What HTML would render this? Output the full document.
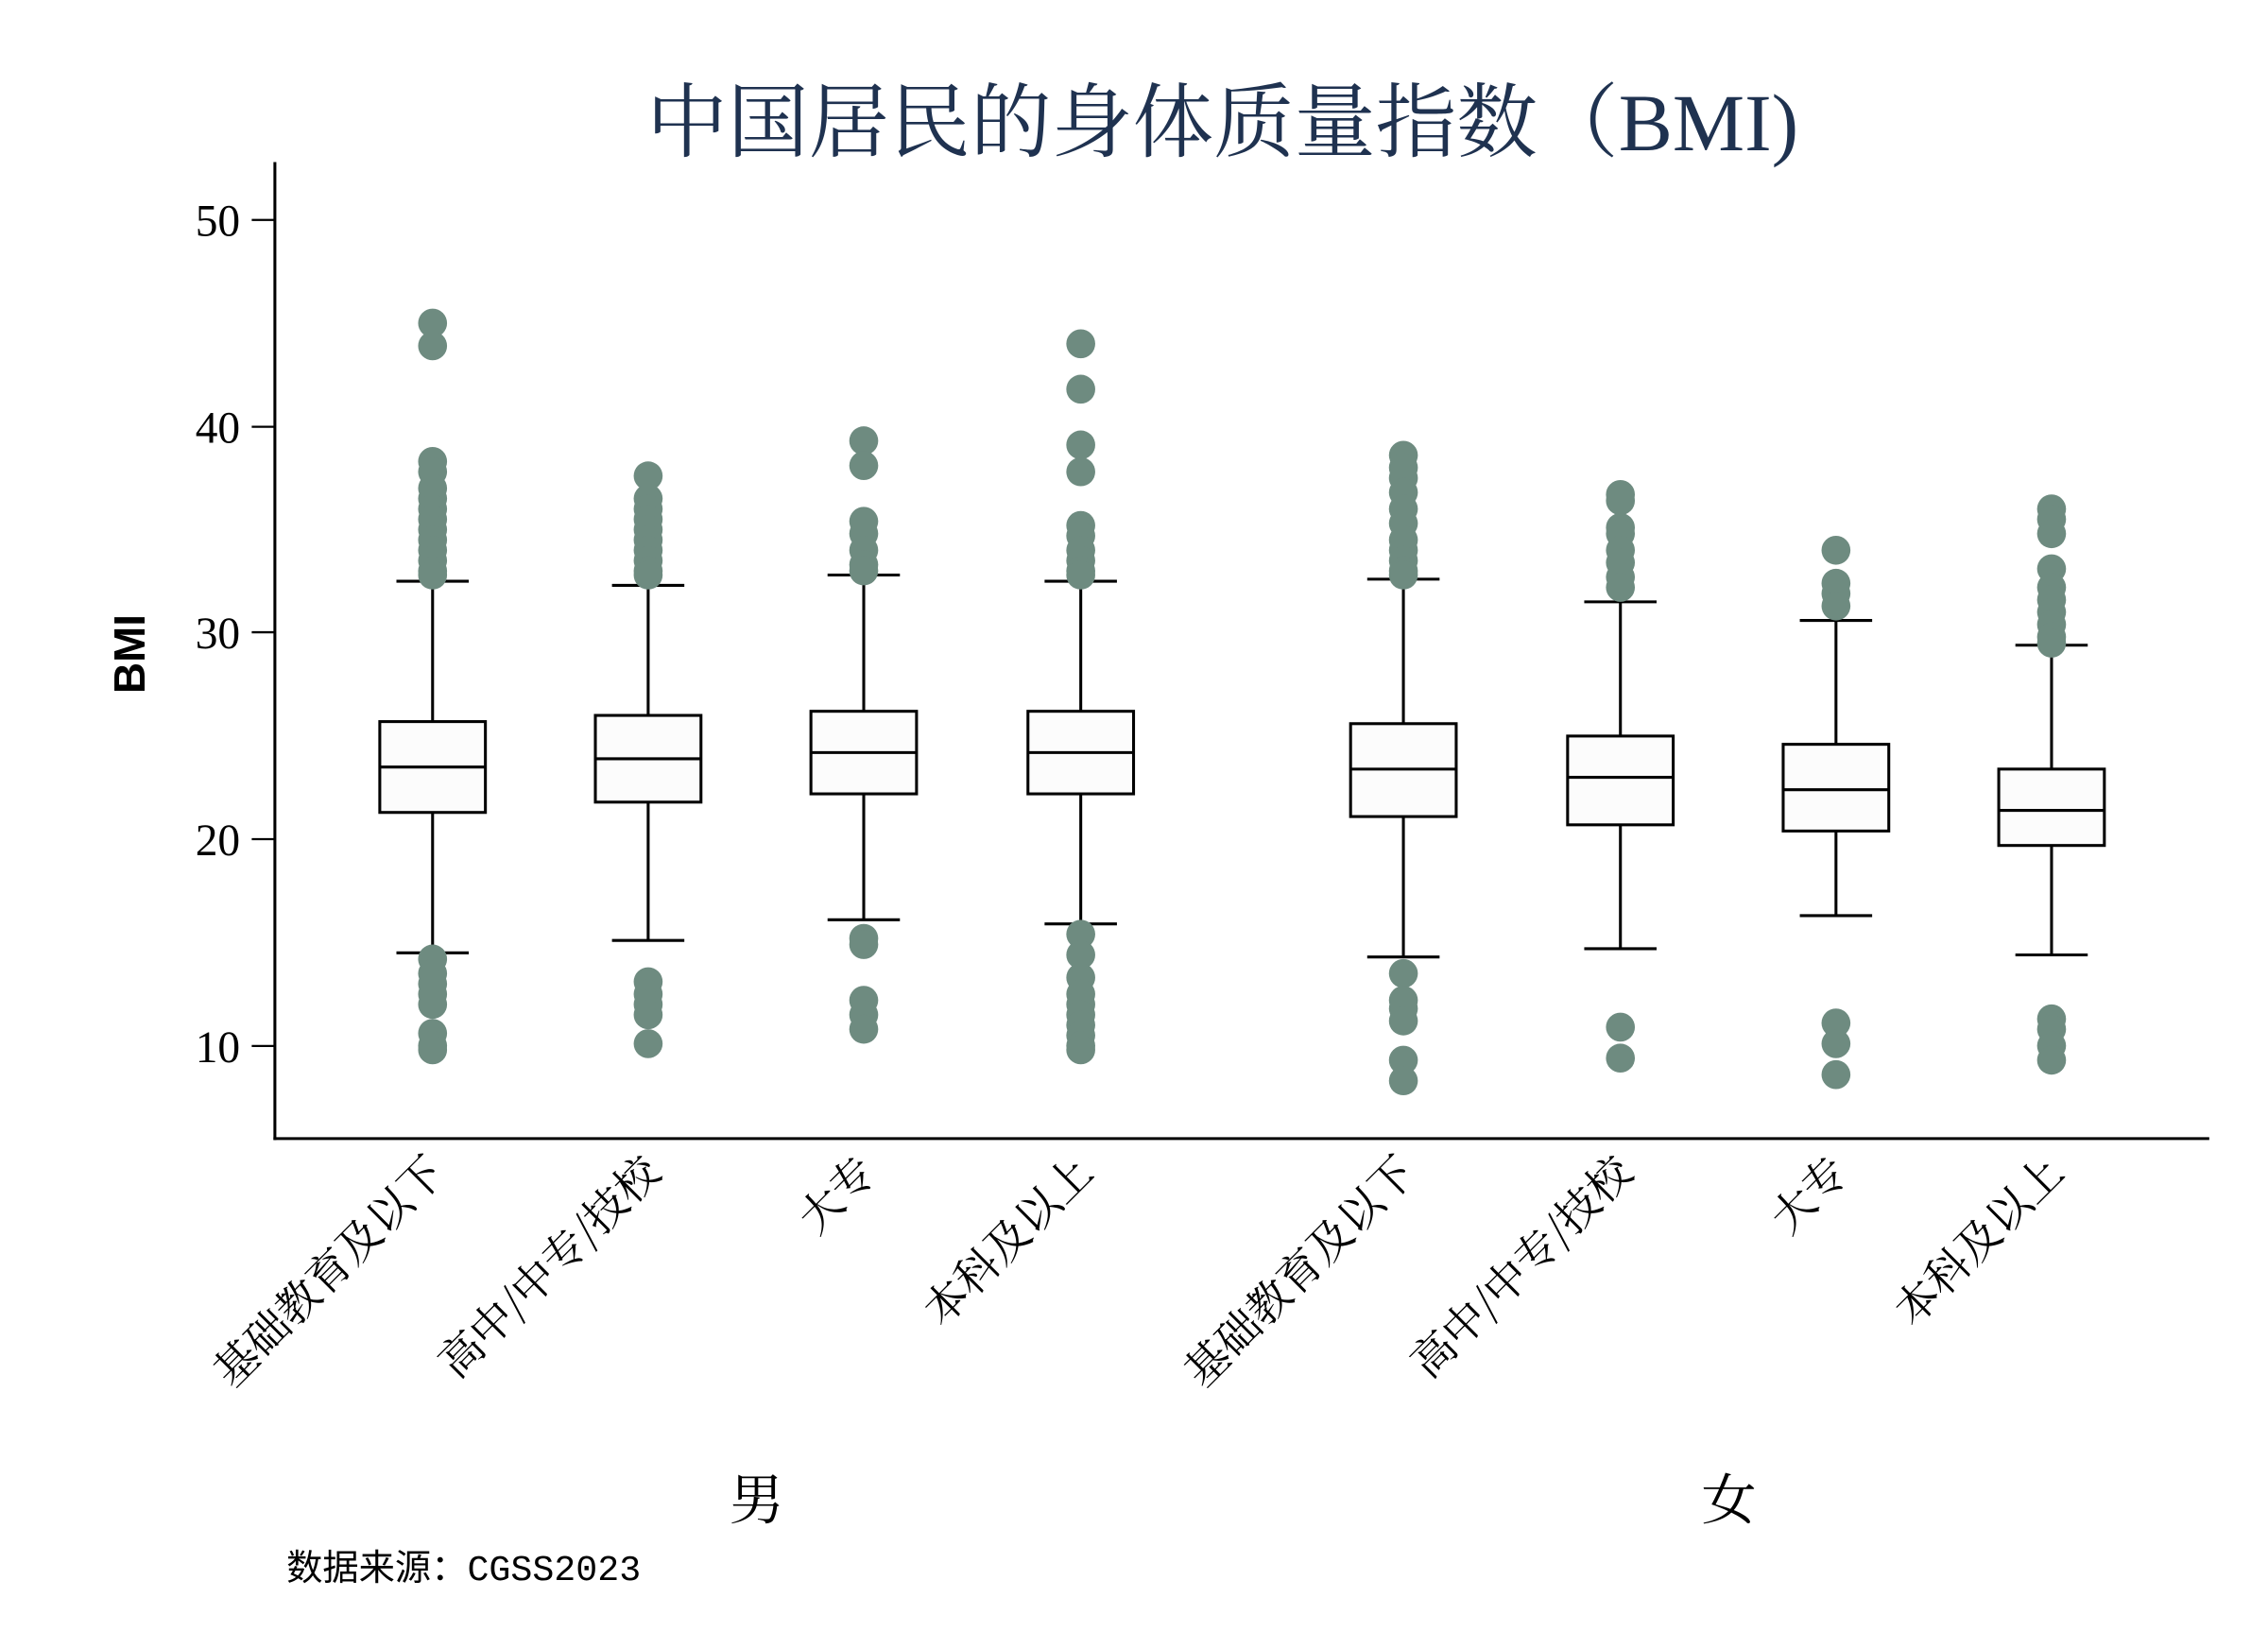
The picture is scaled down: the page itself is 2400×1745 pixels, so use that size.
<!DOCTYPE html>
<html><head><meta charset="utf-8"><style>html,body{margin:0;padding:0;background:#fff}svg{display:block}</style></head>
<body>
<svg id="s" width="2400" height="1745" viewBox="0 0 2400 1745" xmlns="http://www.w3.org/2000/svg">
<rect width="2400" height="1745" fill="#fff"/>
<g transform="scale(1.531)">
<text x="845" y="104" text-anchor="middle" font-family="'Liberation Serif','Noto Serif CJK SC',serif" font-size="56" fill="#1f3250">中国居民的身体质量指数（BMI)</text>
<g id="plot" stroke="#000" fill="none">
<line x1="190" y1="112" x2="190" y2="788" stroke-width="2"/>
<line x1="189" y1="787" x2="1527" y2="787" stroke-width="2"/>
<line x1="174" y1="152" x2="190" y2="152" stroke-width="1.5"/>
<line x1="174" y1="295" x2="190" y2="295" stroke-width="1.5"/>
<line x1="174" y1="437" x2="190" y2="437" stroke-width="1.5"/>
<line x1="174" y1="580" x2="190" y2="580" stroke-width="1.5"/>
<line x1="174" y1="723" x2="190" y2="723" stroke-width="1.5"/>
</g>
<g font-family="'Liberation Serif',serif" font-size="31" text-anchor="end" fill="#000">
<text x="166" y="163">50</text><text x="166" y="306">40</text><text x="166" y="448">30</text><text x="166" y="591">20</text><text x="166" y="734">10</text>
</g>
<text transform="translate(100,452) rotate(-90)" text-anchor="middle" font-family="'Liberation Sans',sans-serif" font-weight="bold" font-size="30">BMI</text>
<g id="data"></g>
<g font-family="'Noto Serif CJK SC',serif" font-size="30" text-anchor="end" fill="#000">
<text transform="translate(309,812) rotate(-45)">基础教育及以下</text>
<text transform="translate(458,812) rotate(-45)">高中/中专/技校</text>
<text transform="translate(607,812) rotate(-45)">大专</text>
<text transform="translate(757,812) rotate(-45)">本科及以上</text>
<text transform="translate(980,812) rotate(-45)">基础教育及以下</text>
<text transform="translate(1130,812) rotate(-45)">高中/中专/技校</text>
<text transform="translate(1279,812) rotate(-45)">大专</text>
<text transform="translate(1428,812) rotate(-45)">本科及以上</text>
</g>
<g font-family="'Liberation Serif','Noto Serif CJK SC',serif" font-size="38" text-anchor="middle">
<text x="523" y="1050">男</text><text x="1195" y="1050">女</text>
</g>
<text x="198" y="1092" font-family="'Liberation Mono','Noto Sans CJK SC',monospace" font-size="25">数据来源：CGSS2023</text>
</g>
</svg>
<script>
var Y=function(v){return 152+(50-v)*14.27;};
var D=[
[299,32.5,25.7,23.5,21.3,14.5,[45,43.9,38.3,37.8,37,36.5,36,35.5,35,34.5,34,33.5,33,32.8],[14.2,13.5,13,12.5,12,10.6,10,9.8]],
[448,32.3,26.0,23.9,21.8,15.1,[37.6,36.5,36,35.5,35,34.5,34,33.5,33,32.8],[13.1,12.5,12,11.5,10.1]],
[597,32.8,26.2,24.2,22.2,16.1,[39.3,38.1,35.4,34.8,34,33.3,33],[15.2,14.9,12.2,11.5,10.8]],
[747,32.5,26.2,24.2,22.2,15.9,[44,41.8,39.1,37.8,35.2,34.7,34,33.5,33,32.8],[15.4,14.4,13.3,12.5,12,11.5,11,10.5,10,9.8]],
[970,32.6,25.6,23.4,21.1,14.3,[38.6,38,37.5,36.8,36,35.3,34.5,34,33.5,33,32.8],[13.5,12.2,11.8,11.2,9.3,8.3]],
[1120,31.5,25.0,23.0,20.7,14.7,[36.7,36.4,35.1,34.8,34,33.4,32.7,32.2],[10.9,9.4]],
[1269,30.6,24.6,22.4,20.4,16.3,[34,32.4,31.9,31.3],[11.1,10.1,8.6]],
[1418,29.4,23.4,21.4,19.7,14.4,[36,35.5,34.8,33.1,32.2,31.6,31,30.4,29.8,29.5],[11.3,10.8,10,9.3]]];
var h='';
D.forEach(function(d){var x=d[0];
 h+='<line x1="'+x+'" x2="'+x+'" y1="'+Y(d[1])+'" y2="'+Y(d[2])+'" stroke="#000" stroke-width="2"/>';
 h+='<line x1="'+x+'" x2="'+x+'" y1="'+Y(d[4])+'" y2="'+Y(d[5])+'" stroke="#000" stroke-width="2"/>';
 h+='<line x1="'+(x-25)+'" x2="'+(x+25)+'" y1="'+Y(d[1])+'" y2="'+Y(d[1])+'" stroke="#000" stroke-width="2"/>';
 h+='<line x1="'+(x-25)+'" x2="'+(x+25)+'" y1="'+Y(d[5])+'" y2="'+Y(d[5])+'" stroke="#000" stroke-width="2"/>';
 d[6].concat(d[7]).forEach(function(v){h+='<circle cx="'+x+'" cy="'+Y(v)+'" r="10" fill="#6e8b80"/>';});
 h+='<rect x="'+(x-36.5)+'" y="'+Y(d[2])+'" width="73" height="'+(Y(d[4])-Y(d[2]))+'" fill="#fcfcfc" stroke="#000" stroke-width="2"/>';
 h+='<line x1="'+(x-36.5)+'" x2="'+(x+36.5)+'" y1="'+Y(d[3])+'" y2="'+Y(d[3])+'" stroke="#000" stroke-width="2"/>';
});
document.getElementById('data').innerHTML=h;
</script>
</body></html>
